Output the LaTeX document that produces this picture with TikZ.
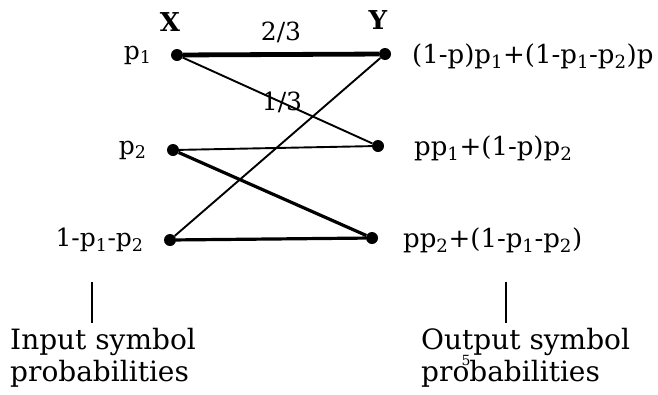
\documentclass[tikz,border=0pt]{standalone}
\usepackage{fontspec}
\setmainfont{DejaVu Serif}
\usepackage{tikz}
\usetikzlibrary{positioning}
\newcommand{\lo}[1]{\textsubscript{#1}}
\begin{document}
\begin{tikzpicture}[x=1pt,y=-1pt,
  dot/.style={circle,fill=black,inner sep=0pt,minimum size=12pt},
  lbl/.style={font=\fontsize{25}{30}\selectfont,inner sep=0pt},
  rlbl/.style={font=\fontsize{26}{30}\selectfont,inner sep=0pt,anchor=west},
  heavy/.style={line width=4.8pt},
  mid/.style={line width=3.2pt},
  light/.style={line width=1.9pt}]
  \useasboundingbox (0,0) rectangle (658,394);
  \node[dot] (x1) at (177,55) {};
  \node[dot] (x2) at (173,150) {};
  \node[dot] (x3) at (170,240) {};
  \node[dot] (y1) at (385,54) {};
  \node[dot] (y2) at (378,146) {};
  \node[dot] (y3) at (372,238) {};
  \node[lbl,left=19pt of x1] (px1) {p\lo{1}};
  \node[lbl,left=20pt of x2] (px2) {p\lo{2}};
  \node[lbl,left=20pt of x3] (px3) {1-p\lo{1}-p\lo{2}};
  \node[rlbl] (py1) at (412,56) {(1-p)p\lo{1}+(1-p\lo{1}-p\lo{2})p};
  \node[rlbl] (py2) at (414,148) {pp\lo{1}+(1-p)p\lo{2}};
  \node[rlbl] (py3) at (403,240) {pp\lo{2}+(1-p\lo{1}-p\lo{2})};
  \node[lbl,font=\fontsize{26}{30}\selectfont\bfseries] (xx) at (170,22) {X};
  \node[lbl,font=\fontsize{26}{30}\selectfont\bfseries] (yy) at (378,20) {Y};
  \draw[heavy] (x1) -- node[lbl,above=9pt] {2/3} (y1);
  \draw[light] (x1) -- (y2);
  \draw[light] (x2) -- (y2);
  \draw[mid] (x2) -- (y3);
  \draw[mid] (x3) -- (y3);
  \draw[light] (x3) -- (y1);
  \node[lbl] (third) at (282,102) {1/3};
  \node[lbl,anchor=north west,align=left,font=\fontsize{28}{32}\selectfont] (inp) at (10,328) {Input symbol\\probabilities};
  \node[lbl,anchor=north west,align=left,font=\fontsize{28}{32}\selectfont] (outp) at (421,328) {Output symbol\\probabilities};
  \coordinate (bl) at (92,282);
  \coordinate (br) at (506,282);
  \draw[line width=2.4pt] (bl) -- (92,323);
  \draw[line width=2.4pt] (br) -- (506,323);
  \node[lbl,font=\fontsize{14}{16}\selectfont] (pg) at (466,360) {5};
\end{tikzpicture}
\end{document}
